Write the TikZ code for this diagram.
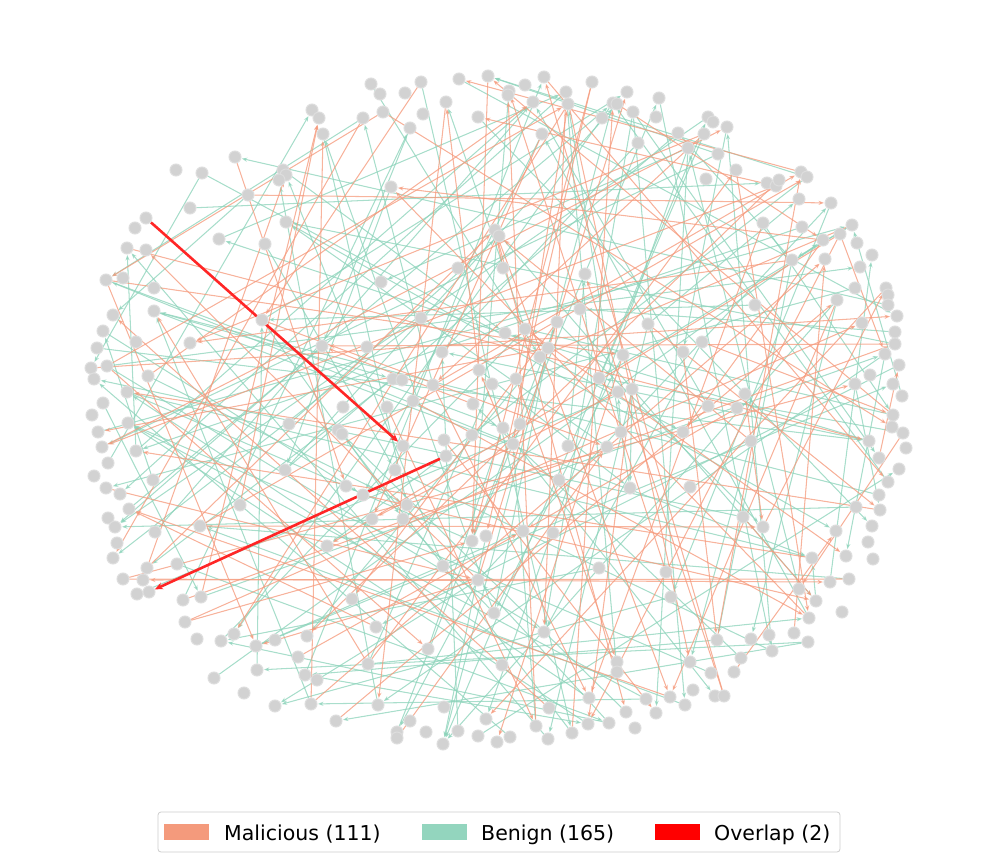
\documentclass[tikz,border=0pt]{standalone}
\usepackage{fontspec}
\setmainfont{DejaVu Sans}
\usetikzlibrary{arrows.meta,backgrounds}
\definecolor{malc}{HTML}{F49A7C}
\definecolor{benc}{HTML}{93D5BE}
\definecolor{malline}{HTML}{F59A7C}
\definecolor{benline}{HTML}{8CD3BA}
\definecolor{ovl}{HTML}{FF0000}
\definecolor{nodegray}{HTML}{D2D2D2}
\definecolor{nodering}{HTML}{DDDDDD}
\definecolor{legframe}{HTML}{CCCCCC}
\tikzset{
  vtx/.style={circle, fill=nodegray, draw=nodering, line width=1pt, minimum size=12pt, inner sep=0pt},
  edgebase/.style={line width=1.05pt, opacity=0.72, -{Stealth[length=5.5pt,width=4.2pt]}, shorten >=0.5pt},
  benedge/.style={edgebase, draw=benline, fill=benline},
  maledge/.style={edgebase, draw=malline, fill=malline},
  ovledge/.style={line width=2.6pt, draw=ovl!85!white, -{Stealth[length=8pt,width=7pt]}},
  legpatch/.style={fill=#1, minimum width=45pt, minimum height=16pt, inner sep=0pt},
  legtext/.style={anchor=base west, inner sep=0pt, font=\fontsize{20.5}{24}\selectfont}
}
\begin{document}
\begin{tikzpicture}[x=1pt,y=-1pt]
\useasboundingbox (0,0) rectangle (997,859);
% special nodes of the overlap edges
\node[vtx] (rA) at (146,218) {};
\node[vtx] (rB) at (403,446) {};
\node[vtx] (rC) at (446,456) {};
\node[vtx] (rD) at (149,592) {};
% all other nodes
\foreach [count=\i] \x/\y in {
312/110, 319/118, 323/134, 235/157, 176/170, 202/173, 283/170, 286/175, 279/180, 248/195, 190/208, 286/222, 135/228,
371/84, 380/94, 421/82, 459/79, 488/76, 405/93, 423/114, 446/102, 383/112, 363/118, 410/128, 478/117, 509/91, 508/95, 525/85, 544/77, 533/102, 542/134, 566/92, 568/104, 592/82, 602/118, 627/92, 613/103, 617/104, 633/112, 638/143, 391/187, 495/230, 499/236,
659/98, 656/117, 708/117, 713/122, 727/127, 678/133, 704/134, 688/148, 718/154, 736/170, 706/179, 767/183, 776/186, 779/180, 801/172, 807/177, 799/199, 831/203, 763/223, 802/227, 840/234, 852/225,
219/239, 265/244, 127/248, 146/250, 106/280, 123/278, 154/288, 154/311, 113/315, 103/331, 97/348, 107/366, 91/368, 94/379, 136/342, 190/343, 262/320, 322/346, 148/376, 127/392, 103/403, 343/407,
458/268, 503/268, 381/282, 585/274, 580/309, 421/318, 557/322, 505/333, 525/329, 367/347, 442/352, 548/348, 540/357, 623/355, 479/370, 393/379, 402/380, 433/385, 492/384, 516/379, 599/378, 618/392, 632/389, 413/401, 387/407, 473/404,
823/240, 857/243, 872/255, 792/260, 825/259, 860/267, 855/288, 886/288, 888/295, 888/305, 897/316, 837/300, 755/305, 862/323, 895/332, 895/344, 885/354, 899/365, 870/375, 855/384, 893/384, 902/396, 648/324, 702/342, 683/352, 745/394, 708/406, 737/408,
92/415, 128/423, 98/432, 102/447, 136/451, 108/463, 94/476, 289/424, 338/430, 342/434, 285/470, 153/480, 106/488, 120/494, 346/486, 129/509, 240/505, 108/518, 115/527, 200/526, 155/532, 117/543, 113/558, 177/564, 147/568, 327/546, 123/579, 143/580,
444/440, 472/435, 503/428, 520/424, 513/444, 568/446, 607/447, 621/432, 395/470, 363/495, 407/505, 403/519, 372/519, 559/480, 630/488, 523/531, 553/533, 472/541, 486/536, 443/566, 599/568, 478/580,
683/432, 751/441, 893/415, 892/427, 903/433, 906/448, 869/441, 879/458, 899/469, 888/482, 879/495, 880/510, 856/507, 690/487, 743/517, 763/527, 872/526, 836/531, 868/542, 873/559, 846/556, 812/558, 849/579, 830/582, 666/572,
137/594, 183/600, 201/597, 185/622, 197/639, 221/641, 234/634, 256/646, 275/640, 307/636, 298/657, 257/670, 305/675, 317/680, 214/678, 244/693, 275/706, 311/704, 336/721, 352/599,
494/613, 376/627, 544/632, 428/649, 368/664, 502/665, 617/662, 617/672, 378/705, 444/707, 549/708, 589/698, 626/712, 410/721, 486/719, 397/732, 397/738, 426/732, 458/731, 478/736, 510/737, 497/742, 443/744, 536/726, 548/739, 572/733, 588/724, 609/723, 635/728,
671/597, 717/640, 751/639, 769/635, 794/633, 808/642, 816/601, 809/618, 799/589, 842/612, 772/651, 741/658, 690/662, 711/673, 734/672, 693/690, 715/696, 724/696, 646/699, 670/697, 685/705, 656/713}
{ \node[vtx] (n\i) at (\x,\y) {}; \xdef\NN{\i} }
% connectors
\begin{pgfonlayer}{background}
\pgfmathsetseed{4242}
\foreach \k in {1,...,165}{
  \pgfmathtruncatemacro\a{random(1,\NN)}
  \pgfmathtruncatemacro\b{mod(\a-1+random(30,\NN-30),\NN)+1}
  \draw[benedge] (n\a) -- (n\b);
}
\foreach \k in {1,...,111}{
  \pgfmathtruncatemacro\a{random(1,\NN)}
  \pgfmathtruncatemacro\b{mod(\a-1+random(30,\NN-30),\NN)+1}
  \draw[maledge] (n\a) -- (n\b);
}
\draw[ovledge] (rA) -- (rB);
\draw[ovledge] (rC) -- (rD);
\end{pgfonlayer}
% legend
\node[draw=legframe, line width=0.8pt, rounded corners=3pt, minimum width=682pt, minimum height=40pt, inner sep=0pt] (legend) at (499,832) {};
\node[legpatch=malc] (pm) at (186,832) {};
\node[legtext] (tm) at (224,840) {Malicious (111)};
\node[legpatch=benc] (pb) at (444,832) {};
\node[legtext] (tb) at (481,840) {Benign (165)};
\node[legpatch=ovl] (po) at (677,832) {};
\node[legtext] (to) at (714,840) {Overlap (2)};
\end{tikzpicture}
\end{document}
